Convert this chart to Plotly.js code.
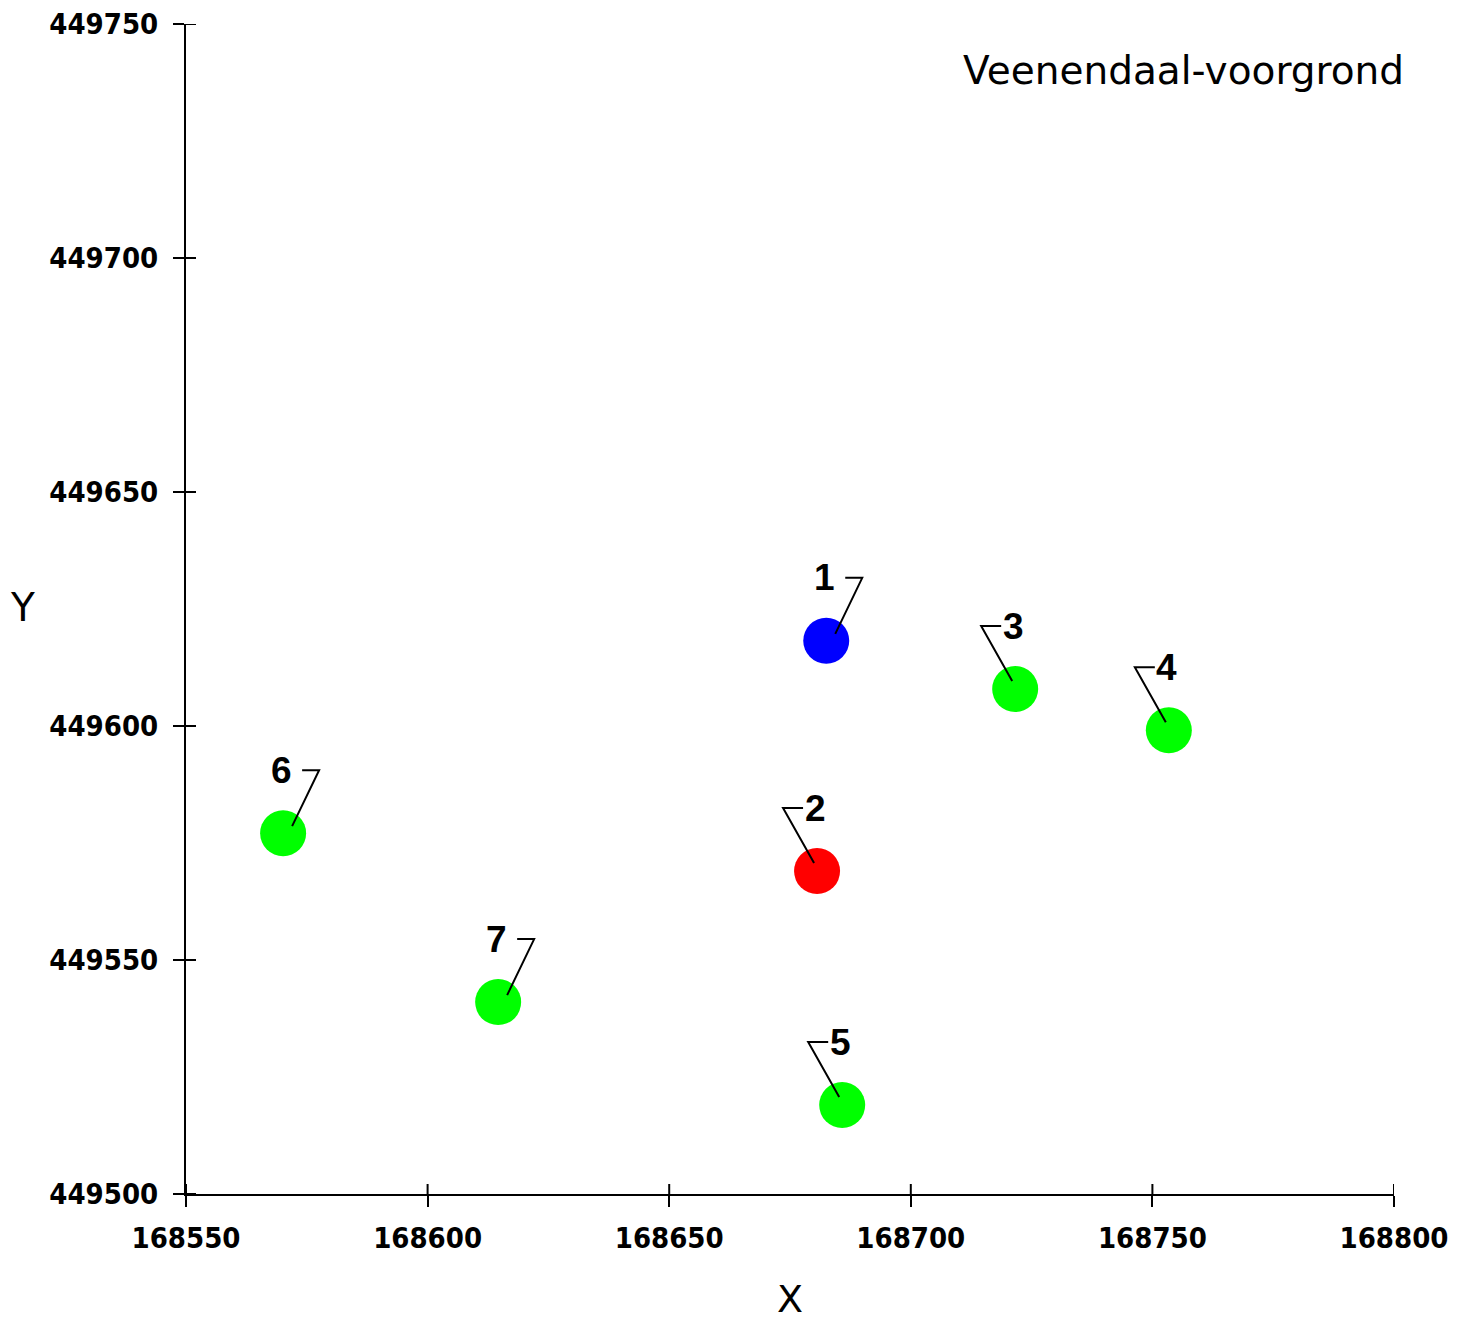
<!DOCTYPE html>
<html>
<head>
<meta charset="utf-8">
<script src="https://cdn.plot.ly/plotly-3.0.1.min.js"></script>
<style>
  html, body { margin: 0; padding: 0; background: #fff; }
  #chart { width: 1466px; height: 1321px; }
</style>
</head>
<body>
<div id="chart"></div>
<script>
// ---- data ----
const pointIds = ['1', '2', '3', '4', '5', '6', '7'];
const xValues = [168682.5, 168680.6, 168721.6, 168753.4, 168685.8, 168570.1, 168614.6];
const yValues = [449618.2, 449569.0, 449607.9, 449599.1, 449519.0, 449577.1, 449541.0];
const pointColors = ['#0000FF', '#FF0000', '#00FF00', '#00FF00', '#00FF00', '#00FF00', '#00FF00'];
const leaderSide = ['right', 'left', 'left', 'left', 'left', 'right', 'right'];
const xTicks = [168550, 168600, 168650, 168700, 168750, 168800];
const yTicks = [449500, 449550, 449600, 449650, 449700, 449750];
const chartTitle = 'Veenendaal-voorgrond';

const xRange = [168550, 168800];
const yRange = [449500, 449750];

const tickFont = { family: '"DejaVu Sans Condensed", "Liberation Sans", sans-serif', size: 29, color: '#000', weight: 'bold' };
const labelFont = { family: '"Liberation Sans", Arial, sans-serif', size: 37, color: '#000', weight: 'bold' };
const textFont = { family: '"DejaVu Sans", Verdana, sans-serif', size: 39, color: '#000' };

const traces = [
  {
    type: 'scatter', mode: 'markers',
    x: xValues, y: yValues,
    text: pointIds,
    marker: { size: 46, color: pointColors, line: { width: 0 } },
    hoverinfo: 'text+x+y',
    showlegend: false
  }
];

const annotations = pointIds.map((id, i) => ({
  x: xValues[i], y: yValues[i], xref: 'x', yref: 'y',
  text: id, showarrow: false,
  xshift: -2, yshift: 63,
  xanchor: 'center', yanchor: 'middle',
  font: labelFont
}));

annotations.push({
  xref: 'paper', yref: 'paper',
  x: (22 - 186) / 1208, y: (1194 - 607) / 1170,
  text: 'Y', showarrow: false, xanchor: 'center', yanchor: 'middle',
  font: textFont
});

// leader lines from each label to its point (pixel offsets anchored at the data point)
const shapes = pointIds.map((id, i) => ({
  type: 'path',
  xref: 'x', yref: 'y',
  xsizemode: 'pixel', ysizemode: 'pixel',
  xanchor: xValues[i], yanchor: yValues[i],
  path: leaderSide[i] === 'right'
    ? 'M 9 7 L 36 63 L 19 63'
    : 'M -3 8 L -34 63 L -14 63',
  line: { color: '#000', width: 2 },
  layer: 'above'
}));

// inner half of the crossing tick marks (outer half is drawn by the axes)
xTicks.forEach(t => shapes.push({
  type: 'line', xref: 'x', yref: 'paper',
  ysizemode: 'pixel', yanchor: 0,
  x0: t, x1: t, y0: 0, y1: 10,
  line: { color: '#000', width: 2 }, layer: 'above'
}));
yTicks.forEach(t => shapes.push({
  type: 'line', xref: 'paper', yref: 'y',
  xsizemode: 'pixel', xanchor: 0,
  y0: t, y1: t, x0: 0, x1: 10,
  line: { color: '#000', width: 2 }, layer: 'above'
}));

const layout = {
  width: 1466, height: 1321,
  paper_bgcolor: '#fff', plot_bgcolor: '#fff',
  margin: { l: 186, r: 72, t: 24, b: 127 },
  showlegend: false,
  title: {
    text: chartTitle,
    x: 1404 / 1466, xanchor: 'right',
    y: 1 - 70 / 1321, yanchor: 'middle',
    font: textFont
  },
  xaxis: {
    range: xRange, tickvals: xTicks, ticktext: xTicks.map(String),
    showgrid: false, zeroline: false,
    showline: true, linecolor: '#000', linewidth: 2,
    ticks: 'outside', ticklen: 11, tickwidth: 2, tickcolor: '#000',
    tickfont: tickFont, ticklabelstandoff: 6,
    title: { text: 'X', font: { family: textFont.family, size: 38, color: '#000' }, standoff: 46 },
    fixedrange: true
  },
  yaxis: {
    range: yRange, tickvals: yTicks, ticktext: yTicks.map(String),
    showgrid: false, zeroline: false,
    showline: true, linecolor: '#000', linewidth: 2,
    ticks: 'outside', ticklen: 11, tickwidth: 2, tickcolor: '#000',
    tickfont: tickFont, ticklabelstandoff: 9,
    fixedrange: true
  },
  annotations: annotations,
  shapes: shapes
};

Plotly.newPlot('chart', traces, layout, { displayModeBar: false, staticPlot: true });
</script>
</body>
</html>
